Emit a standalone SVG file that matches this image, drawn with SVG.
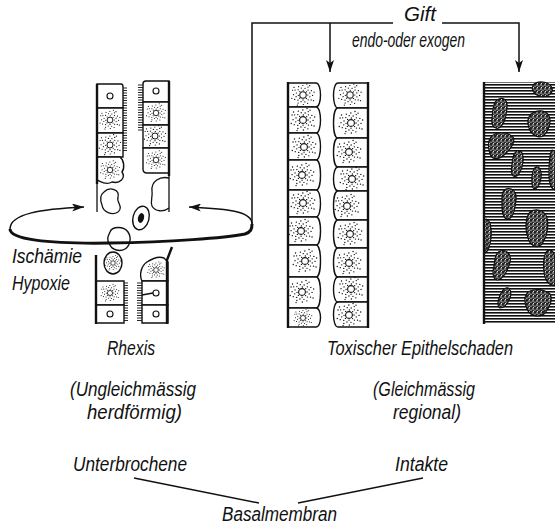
<svg xmlns="http://www.w3.org/2000/svg" xmlns:xlink="http://www.w3.org/1999/xlink" width="555" height="528" viewBox="0 0 555 528">
  <style>
    text { font-family: "Liberation Sans", Arial, sans-serif; font-style: italic; font-size: 20px; fill: #111; }
    .cell { fill: #fff; stroke: #111; stroke-width: 1.4; }
    .wall { fill: none; stroke: #111; stroke-width: 2.4; }
    .thin { fill: none; stroke: #111; stroke-width: 1.3; }
    .conn { fill: none; stroke: #111; stroke-width: 1.5; }
    .cil { fill: none; stroke: #111; stroke-width: 0.9; }
    .nuc { fill: #fff; stroke: #111; stroke-width: 1.1; }
    .blob { fill: url(#speck); stroke: #111; stroke-width: 1.2; }
  </style>
  <defs>
    <marker id="ah" viewBox="0 0 12 8" refX="12" refY="4" markerWidth="12" markerHeight="8" markerUnits="userSpaceOnUse" orient="auto">
      <path d="M0,0 L12,4 L0,8 L3,4 Z" fill="#111"/>
    </marker>
    <pattern id="hatch" width="7" height="3" patternUnits="userSpaceOnUse">
      <rect width="7" height="1.6" fill="#111"/>
    </pattern>
    <pattern id="speck" width="4" height="4" patternUnits="userSpaceOnUse">
      <rect width="4" height="4" fill="#222"/>
      <circle cx="1" cy="1" r="0.75" fill="#fff"/>
      <circle cx="3" cy="2.2" r="0.6" fill="#fff"/>
      <circle cx="1.4" cy="3.4" r="0.55" fill="#fff"/>
    </pattern>
    <!-- stippled cytoplasm round a pale nucleus -->
    <g id="stip">
      <path fill="none" stroke="#111" stroke-width="1.3" stroke-linecap="round"
        d="M5,0h.1M3.5,3.6h.1M0,5.2h.1M-3.6,3.4h.1M-5,0.3h.1M-3.4,-3.6h.1M0.3,-5h.1M3.6,-3.3h.1
           M7.2,1.9h.1M5.4,5.1h.1M1.9,7.3h.1M-2.1,7h.1M-5.3,5.4h.1M-7.3,1.8h.1M-7,-2.1h.1M-5.2,-5.4h.1M-1.8,-7.3h.1M2.1,-7h.1M5.3,-5.2h.1M7.1,-2.2h.1
           M10,0.4h.1M8.5,5.2h.1M4.8,8.8h.1M0.3,10h.1M-5.2,8.5h.1M-8.8,4.7h.1M-10,-0.3h.1M-8.4,-5.2h.1M-4.7,-8.8h.1M-0.2,-10h.1M5.2,-8.4h.1M8.8,-4.6h.1
           M11,6h.1M-11,-5h.1M4,-11.5h.1M-6,10.6h.1M11.6,-3h.1M-11.8,3.5h.1M7,-9.8h.1M-9.5,-8h.1"/>
      <circle r="3.4" class="nuc"/>
    </g>
  </defs>

  <!-- connectors: toxin lines, arrows and the ischaemia ring -->
  <g id="connectors">
    <path class="conn" d="M252,224 V23 H393"/>
    <path class="conn" d="M442,23 H519 V72" marker-end="url(#ah)"/>
    <path class="conn" d="M330,23 V72" marker-end="url(#ah)"/>
    <path class="conn" d="M10,229 C10,214 40,209 84,207" marker-end="url(#ah)"/>
    <path class="conn" d="M252,224 C252,212 232,209 189,207" marker-end="url(#ah)"/>
    <path class="conn" d="M134,478 L259,503"/>
    <path class="conn" d="M298,503 L423,478"/>
  </g>

  <!-- left tubule: rhexis after ischaemia -->
  <g id="rhexis-tubule">
    <!-- upper left cell column -->
    <path class="cell" d="M97,84 H121 Q123,84 123,87 V108 H97 Z"/>
    <path class="cell" d="M97,108 H123 V133 H97 Z"/>
    <path class="cell" d="M97,133 H123 V157 H97 Z"/>
    <path class="cell" d="M97,157 H120 C124,160 125,168 122,172 C126,178 120,184 112,182 C106,186 100,181 97,180 Z"/>
    <circle cx="110" cy="96" r="3" class="nuc"/>
    <use xlink:href="#stip" transform="translate(110,120) scale(0.85)"/>
    <use xlink:href="#stip" transform="translate(110,145) scale(0.9)"/>
    <use xlink:href="#stip" transform="translate(110,170) scale(0.8)"/>
    <path class="wall" d="M97,84 V184"/>
    <path class="thin" d="M97,184 V212"/>
    <path class="cil" d="M123,88h4M123,90.5h4M123,93h4M123,95.5h4M123,98h4M123,100.5h4M123,103h4M123,105.5h4M123,108h4M123,110.5h4M123,113h4M123,115.5h4M123,118h4M123,120.5h4M123,123h4M123,125.5h4M123,128h4M123,130.5h4M123,133h4M123,135.5h4M123,138h4M123,140.5h4M123,143h4M123,145.5h4M123,148h4M123,150.5h4"/>
    <!-- upper right cell column -->
    <path class="cell" d="M146,81 H169 V102 H143 V84 Q143,81 146,81 Z"/>
    <path class="cell" d="M143,102 H169 V125 H143 Z"/>
    <path class="cell" d="M143,125 H169 V148 H143 Z"/>
    <path class="cell" d="M143,148 H169 V173 H147 Q143,173 143,169 Z"/>
    <circle cx="156" cy="91" r="3" class="nuc"/>
    <use xlink:href="#stip" transform="translate(156,113) scale(0.8)"/>
    <use xlink:href="#stip" transform="translate(155,136) scale(0.9)"/>
    <use xlink:href="#stip" transform="translate(156,160) scale(0.8)"/>
    <path class="wall" d="M169,81 V176"/>
    <path class="thin" d="M169,176 V212"/>
    <path class="cil" d="M138,85h5M138,87.5h5M138,90h5M138,92.5h5M138,95h5M138,97.5h5M138,100h5M138,102.5h5M138,105h5M138,107.5h5M138,110h5M138,112.5h5M138,115h5M138,117.5h5M138,120h5M138,122.5h5M138,125h5M138,127.5h5M138,130h5"/>
    <!-- detached cell fragments -->
    <path class="thin" d="M104,192 C110,186 120,190 118,197 C116,202 124,207 118,212 C112,216 103,212 102,205 C100,200 100,195 104,192 Z"/>
    <path class="thin" d="M169,178 C160,176 151,181 152,191 C153,197 150,201 152,206 C155,212 164,212 169,208"/>
    <ellipse cx="141" cy="218" rx="8" ry="12" transform="rotate(15 141 218)" class="cell"/>
    <ellipse cx="141" cy="218" rx="3" ry="5" transform="rotate(15 141 218)" fill="#111"/>
    <path class="cell" d="M110,232 C112,226 124,226 128,232 C132,238 130,246 125,249 C120,252 112,250 110,245 C106,240 108,236 110,232 Z"/>
    <!-- lower left cell column -->
    <ellipse cx="113" cy="263" rx="9" ry="11" class="cell"/>
    <use xlink:href="#stip" transform="translate(113,263) scale(0.65)"/>
    <path class="cell" d="M96,281 H124 V305 H96 Z"/>
    <path class="cell" d="M96,305 H124 V323 H96 Z"/>
    <use xlink:href="#stip" transform="translate(110,293) scale(0.75)"/>
    <circle cx="110" cy="314" r="3" class="nuc"/>
    <path class="wall" d="M96,255 V324"/>
    <path class="cil" d="M124,283h4M124,285.5h4M124,288h4M124,290.5h4M124,293h4M124,295.5h4M124,298h4M124,300.5h4M124,303h4M124,305.5h4M124,308h4M124,310.5h4M124,313h4M124,315.5h4M124,318h4M124,320.5h4"/>
    <!-- lower right cell column -->
    <path class="cell" d="M142,281 C139,275 141,266 147,262 C153,258 159,256 164,258 L168,262 V281 Z"/>
    <use xlink:href="#stip" transform="translate(156,270) scale(0.7)"/>
    <path class="cell" d="M142,281 H168 V305 H142 Z"/>
    <path class="cell" d="M142,305 H168 V323 H142 Z"/>
    <path class="thin" d="M142,295 L153,293"/>
    <circle cx="156" cy="293" r="3" class="nuc"/>
    <circle cx="156" cy="314" r="3" class="nuc"/>
    <path class="wall" d="M172,247 L167,260 V324"/>
    <path class="cil" d="M137,283h5M137,285.5h5M137,288h5M137,290.5h5M137,293h5M137,295.5h5M137,298h5M137,300.5h5M137,303h5M137,305.5h5M137,308h5M137,310.5h5M137,313h5M137,315.5h5M137,318h5M137,320.5h5"/>
  </g>

  <!-- lower rim of the ischaemia ring, drawn over the cells -->
  <g id="ring-rim">
    <path fill="none" stroke="#111" stroke-width="3" d="M10,229 C10,239 45,244 110,243 C170,242 225,238 245,234 C251,232 252,229 252,224"/>
  </g>

  <!-- middle tubule: toxic epithelial damage -->
  <g id="toxic-tubule">
    <path class="cell" d="M288,83 H316 C322,83 322,107 316,107 H288 Z"/>
    <path class="cell" d="M288,107 H316 C322,107 322,133 316,133 H288 Z"/>
    <path class="cell" d="M288,133 H316 C322,133 322,160 316,160 H288 Z"/>
    <path class="cell" d="M288,160 H316 C322,160 322,190 316,190 H288 Z"/>
    <path class="cell" d="M288,190 H316 C322,190 322,217 316,217 H288 Z"/>
    <path class="cell" d="M288,217 H316 C322,217 322,245 316,245 H288 Z"/>
    <path class="cell" d="M288,245 H316 C322,245 322,277 316,277 H288 Z"/>
    <path class="cell" d="M288,277 H316 C322,277 322,308 316,308 H288 Z"/>
    <path class="cell" d="M288,308 H316 C322,308 322,327 316,327 H288 Z"/>
    <use xlink:href="#stip" transform="translate(303,95) scale(0.95)"/>
    <use xlink:href="#stip" transform="translate(303,120)"/>
    <use xlink:href="#stip" transform="translate(304,147)"/>
    <use xlink:href="#stip" transform="translate(302,175)"/>
    <use xlink:href="#stip" transform="translate(303,203)"/>
    <use xlink:href="#stip" transform="translate(301,231)"/>
    <use xlink:href="#stip" transform="translate(305,261)"/>
    <use xlink:href="#stip" transform="translate(302,292)"/>
    <use xlink:href="#stip" transform="translate(303,318) scale(0.75)"/>
    <path class="cell" d="M368,83 H338 C332,83 332,108 338,108 H368 Z"/>
    <path class="cell" d="M368,108 H338 C332,108 332,138 338,138 H368 Z"/>
    <path class="cell" d="M368,138 H338 C332,138 332,167 338,167 H368 Z"/>
    <path class="cell" d="M368,167 H338 C332,167 332,191 338,191 H368 Z"/>
    <path class="cell" d="M368,191 H338 C332,191 332,220 338,220 H368 Z"/>
    <path class="cell" d="M368,220 H338 C332,220 332,248 338,248 H368 Z"/>
    <path class="cell" d="M368,248 H338 C332,248 332,277 338,277 H368 Z"/>
    <path class="cell" d="M368,277 H338 C332,277 332,302 338,302 H368 Z"/>
    <path class="cell" d="M368,302 H338 C332,302 332,327 338,327 H368 Z"/>
    <use xlink:href="#stip" transform="translate(350,95) scale(0.95)"/>
    <use xlink:href="#stip" transform="translate(351,123)"/>
    <use xlink:href="#stip" transform="translate(349,152)"/>
    <use xlink:href="#stip" transform="translate(352,179)"/>
    <use xlink:href="#stip" transform="translate(347,206)"/>
    <use xlink:href="#stip" transform="translate(350,234)"/>
    <use xlink:href="#stip" transform="translate(349,263)"/>
    <use xlink:href="#stip" transform="translate(351,289)"/>
    <use xlink:href="#stip" transform="translate(349,315)"/>
    <path class="wall" d="M288,82 V328"/>
    <path class="wall" d="M368,82 V328"/>
  </g>

  <!-- right panel: necrotic tissue section -->
  <g id="necrosis">
    <rect x="484" y="82" width="71" height="242" fill="#fff"/>
    <rect x="484" y="82" width="71" height="242" fill="url(#hatch)"/>
    <path class="blob" d="M534,84 C540,80 550,82 552,88 C554,94 546,98 540,96 C534,95 530,89 534,84 Z"/>
    <path class="blob" d="M497,100 C503,96 508,100 507,108 C506,116 505,124 499,128 C494,130 491,124 492,118 C493,112 492,104 497,100 Z"/>
    <path class="blob" d="M531,114 C537,109 546,110 549,116 C552,122 548,132 543,136 C538,139 531,134 529,128 C527,122 527,118 531,114 Z"/>
    <path class="blob" d="M492,136 C498,131 508,132 513,137 C516,142 510,150 504,155 C499,160 492,160 490,154 C488,148 487,141 492,136 Z"/>
    <path class="blob" d="M517,151 C522,149 524,156 523,162 C522,169 520,175 515,177 C511,176 511,170 512,164 C513,158 513,153 517,151 Z"/>
    <path class="blob" d="M536,167 C540,166 542,172 541,178 C540,184 538,189 534,189 C531,187 532,181 532,176 C533,171 533,168 536,167 Z"/>
    <path class="blob" d="M552,150 C556,150 556,160 555,170 L555,190 C551,189 549,182 549,174 C549,164 549,154 552,150 Z"/>
    <path class="blob" d="M506,189 C512,187 517,192 516,200 C515,208 514,216 509,219 C504,220 502,214 502,206 C502,198 501,191 506,189 Z"/>
    <path class="blob" d="M530,212 C536,208 545,210 547,218 C549,226 547,238 541,245 C536,249 530,245 528,238 C525,230 525,218 530,212 Z"/>
    <path class="blob" d="M486,219 C490,219 492,228 491,238 C490,246 488,252 485,253 L484,220 Z"/>
    <path class="blob" d="M500,251 C506,249 512,254 510,262 C508,270 504,278 498,280 C493,280 492,273 494,266 C495,259 495,253 500,251 Z"/>
    <path class="blob" d="M548,250 C553,249 555,254 555,262 L555,285 C550,287 545,281 544,272 C543,262 544,253 548,250 Z"/>
    <path class="blob" d="M506,288 C510,287 512,292 510,298 C508,303 505,308 500,308 C497,306 498,300 500,295 C502,291 503,289 506,288 Z"/>
    <path class="blob" d="M528,292 C534,288 544,289 550,294 C553,299 550,308 544,314 C538,318 530,316 527,309 C524,302 524,296 528,292 Z"/>
    <path class="wall" d="M484,82 V324" stroke-width="2.6"/>
  </g>

  <!-- labels -->
  <g id="labels">
    <text x="404" y="21" textLength="32" lengthAdjust="spacingAndGlyphs">Gift</text>
    <text x="352" y="47" textLength="113" lengthAdjust="spacingAndGlyphs">endo-oder exogen</text>
    <text x="12" y="263" textLength="70" lengthAdjust="spacingAndGlyphs">Ischämie</text>
    <text x="12" y="290" textLength="58" lengthAdjust="spacingAndGlyphs">Hypoxie</text>
    <text x="107" y="355" textLength="48" lengthAdjust="spacingAndGlyphs">Rhexis</text>
    <text x="327" y="355" textLength="186" lengthAdjust="spacingAndGlyphs">Toxischer Epithelschaden</text>
    <text x="70" y="396" textLength="126" lengthAdjust="spacingAndGlyphs">(Ungleichmässig</text>
    <text x="87" y="419" textLength="95" lengthAdjust="spacingAndGlyphs">herdförmig)</text>
    <text x="373" y="396" textLength="102" lengthAdjust="spacingAndGlyphs">(Gleichmässig</text>
    <text x="393" y="419" textLength="68" lengthAdjust="spacingAndGlyphs">regional)</text>
    <text x="73" y="471" textLength="114" lengthAdjust="spacingAndGlyphs">Unterbrochene</text>
    <text x="395" y="471" textLength="53" lengthAdjust="spacingAndGlyphs">Intakte</text>
    <text x="222" y="521" textLength="115" lengthAdjust="spacingAndGlyphs">Basalmembran</text>
  </g>
</svg>
